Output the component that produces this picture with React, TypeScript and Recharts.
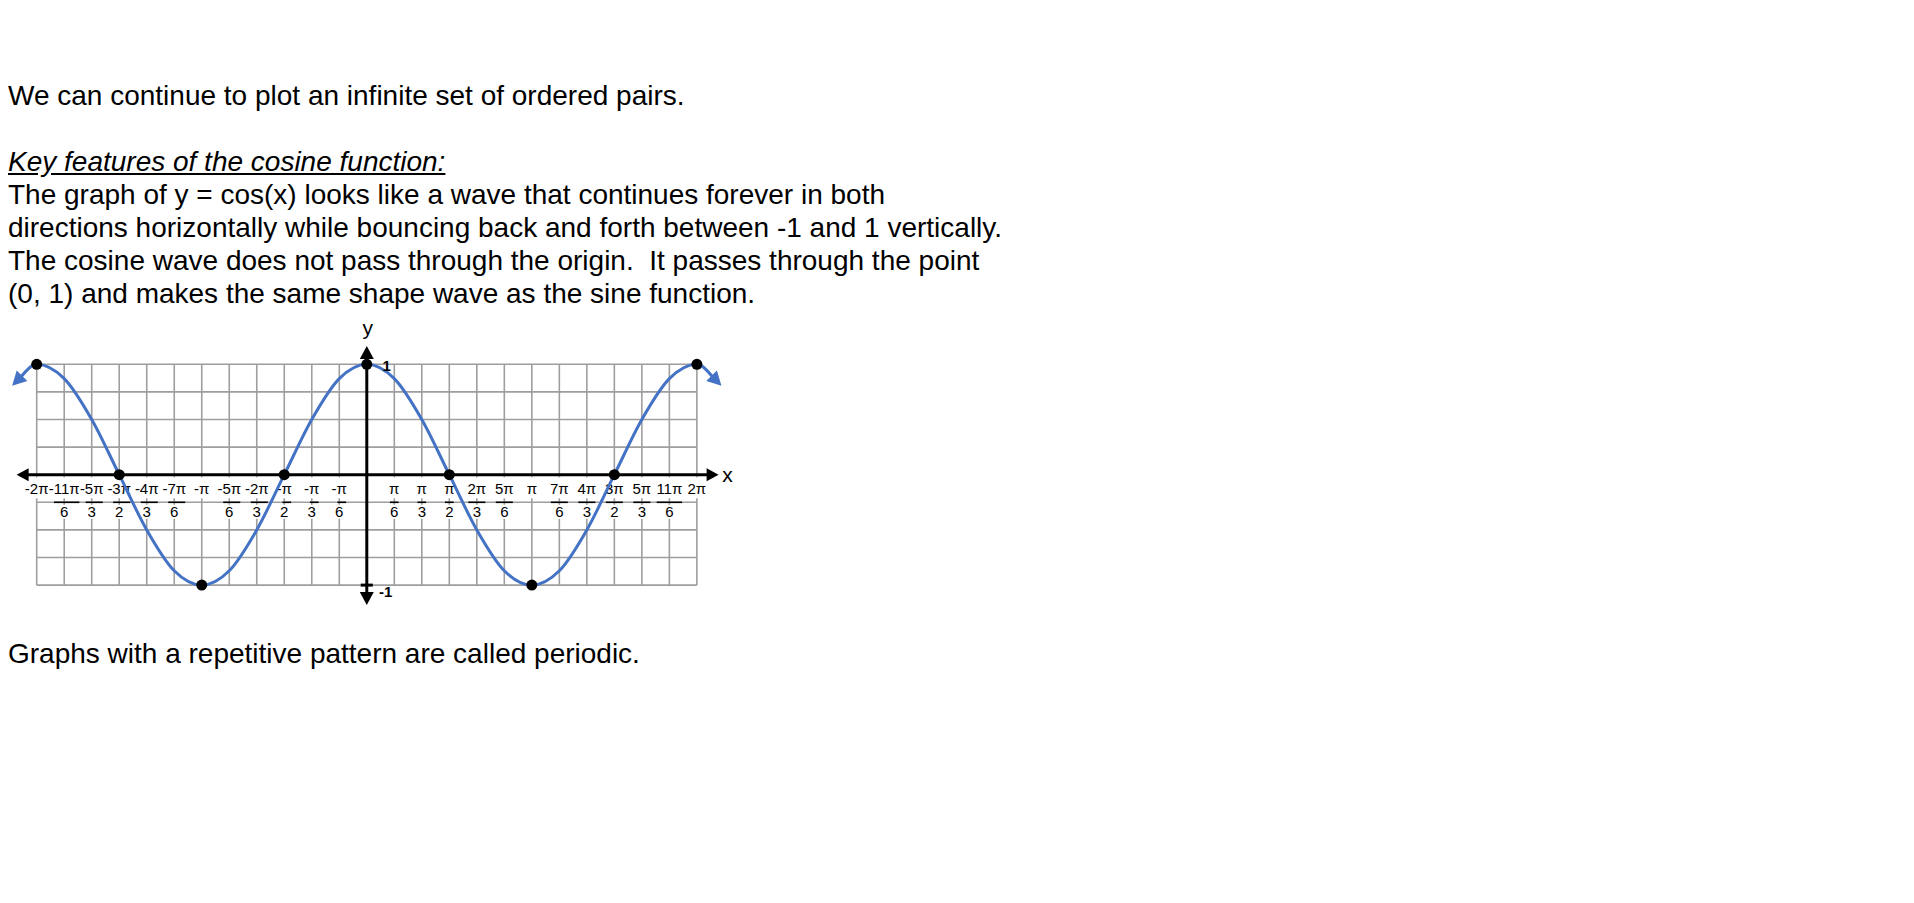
import React from 'react';
import { ComposedChart, Line, Scatter, XAxis, YAxis, ReferenceLine, ReferenceDot } from 'recharts';

// x values are counted in steps of π/6
const tickSteps = [-12, -11, -10, -9, -8, -7, -6, -5, -4, -3, -2, -1, 0, 1, 2, 3, 4, 5, 6, 7, 8, 9, 10, 11, 12];
const tickNums = ['-2π', '-11π', '-5π', '-3π', '-4π', '-7π', '-π', '-5π', '-2π', '-π', '-π', '-π', '', 'π', 'π', 'π', '2π', '5π', 'π', '7π', '4π', '3π', '5π', '11π', '2π'];
const tickDens = ['', '6', '3', '2', '3', '6', '', '6', '3', '2', '3', '6', '', '6', '3', '2', '3', '6', '', '6', '3', '2', '3', '6', ''];

const gridRows = [-1, -0.75, -0.5, -0.25, 0, 0.25, 0.5, 0.75, 1];

const curveX = [-12.56, -12, -11, -10, -9, -8, -7, -6, -5, -4, -3, -2, -1, 0, 1, 2, 3, 4, 5, 6, 7, 8, 9, 10, 11, 12, 12.56];
const curveY = [0.89, 1, 0.87, 0.5, 0, -0.5, -0.87, -1, -0.87, -0.5, 0, 0.5, 0.87, 1, 0.87, 0.5, 0, -0.5, -0.87, -1, -0.87, -0.5, 0, 0.5, 0.87, 1, 0.89];

const keyX = [-12, -9, -6, -3, 0, 3, 6, 9, 12];
const keyY = [1, 0, -1, 0, 1, 0, -1, 0, 1];

const curveData = curveX.map((x, i) => ({ x, y: curveY[i] }));
const keyData = keyX.map((x, i) => ({ x, y: keyY[i] }));

const BLUE = '#4472C4';
const GRID = '#9e9e9e';
const FONT = '"Liberation Sans", Arial, sans-serif';

const charW = (c: string) => (c === '-' ? 0.333 : c === 'π' ? 0.58 : 0.556);
const textW = (s: string, fs: number) => s.split('').reduce((a, c) => a + charW(c) * fs, 0);

const arrow = (tx: number, ty: number, dx: number, dy: number, len: number, hw: number, fill: string) => {
  const bx = tx - dx * len;
  const by = ty - dy * len;
  const nx = -dy;
  const ny = dx;
  return (
    <polygon
      points={`${tx},${ty} ${bx + nx * hw},${by + ny * hw} ${bx - nx * hw},${by - ny * hw}`}
      fill={fill}
    />
  );
};

const XAxisLine = (p: any) => {
  const l = Math.min(p.x1, p.x2);
  const r = Math.max(p.x1, p.x2);
  return (
    <g>
      <line x1={l + 8} y1={p.y1} x2={r - 8} y2={p.y1} stroke="#000" strokeWidth={3} />
      {arrow(l, p.y1, -1, 0, 12, 6.5, '#000')}
      {arrow(r, p.y1, 1, 0, 12, 6.5, '#000')}
      <text x={r + 9} y={p.y1 + 7} fontSize={21} fontFamily={FONT} textAnchor="middle">x</text>
    </g>
  );
};

const YAxisLine = (p: any) => {
  const t = Math.min(p.y1, p.y2);
  const b = Math.max(p.y1, p.y2);
  return (
    <g>
      <line x1={p.x1} y1={t + 8} x2={p.x1} y2={b - 8} stroke="#000" strokeWidth={3} />
      {arrow(p.x1, t, 0, -1, 13, 7, '#000')}
      {arrow(p.x1, b, 0, 1, 13, 7, '#000')}
      <text x={p.x1 + 1} y={t - 11} fontSize={21} fontFamily={FONT} textAnchor="middle">y</text>
    </g>
  );
};

// tick label hung on the -0.25 grid row: the fraction bar sits on that row
const TickLabel = (p: any) => {
  const fs = 15;
  const num: string = p.num;
  const den: string = p.den;
  const cx = p.cx;
  const cy = p.cy;
  const w = textW(num, fs);
  const minusW = num.startsWith('-') ? textW('-', fs) : 0;
  return (
    <g fontFamily={FONT} fontSize={fs}>
      <rect x={cx - w / 2 - 1} y={cy - 25} width={w + 2} height={21} fill="#fff" />
      <text x={cx} y={cy - 8} textAnchor="middle">{num}</text>
      {den && (
        <>
          <rect x={cx - 6} y={cy + 2.5} width={12} height={14} fill="#fff" />
          <line x1={cx - w / 2 + minusW} y1={cy} x2={cx + w / 2} y2={cy} stroke="#000" strokeWidth={1.6} />
          <text x={cx} y={cy + 14.5} textAnchor="middle">{den}</text>
        </>
      )}
    </g>
  );
};

const CurveEnd = (p: any) => {
  const last = curveX.length - 1;
  if (p.index !== 0 && p.index !== last) return <g key={`e${p.index}`} />;
  const dx = p.index === 0 ? -0.707 : 0.707;
  const dy = 0.707;
  return (
    <g key={`e${p.index}`}>
      {arrow(p.cx + dx * 13, p.cy + dy * 13, dx, dy, 14, 7.5, BLUE)}
    </g>
  );
};

const CosineChart = () => (
  <ComposedChart
    width={745}
    height={330}
    margin={{ top: 31.18, right: 30, bottom: 11.78, left: 2.575 }}
  >
    <XAxis type="number" dataKey="x" domain={[-12.95, 12.95]} allowDataOverflow hide />
    <YAxis type="number" dataKey="y" domain={[-1.3, 1.3]} allowDataOverflow hide />

    {tickSteps.map((k) => (
      <ReferenceLine
        key={`c${k}`}
        segment={[{ x: k, y: -1 }, { x: k, y: 1 }]}
        stroke={GRID}
        strokeWidth={1.6}
        zIndex={10}
      />
    ))}
    {gridRows.map((v) => (
      <ReferenceLine
        key={`r${v}`}
        segment={[{ x: -12, y: v }, { x: 12, y: v }]}
        stroke={GRID}
        strokeWidth={1.6}
        zIndex={10}
      />
    ))}

    {tickSteps.map((k, i) =>
      tickNums[i] ? (
        <ReferenceDot
          key={`t${k}`}
          x={k}
          y={-0.25}
          r={0}
          zIndex={20}
          shape={(p: any) => <TickLabel {...p} num={tickNums[i]} den={tickDens[i]} />}
        />
      ) : null
    )}

    <ReferenceLine
      segment={[{ x: -12.73, y: 0 }, { x: 12.79, y: 0 }]}
      zIndex={30}
      shape={XAxisLine}
    />
    <ReferenceLine
      segment={[{ x: 0, y: 1.165 }, { x: 0, y: -1.18 }]}
      zIndex={30}
      shape={YAxisLine}
    />
    <ReferenceLine
      segment={[{ x: -0.22, y: -1 }, { x: 0.22, y: -1 }]}
      stroke="#000"
      strokeWidth={3}
      zIndex={30}
    />
    <ReferenceDot
      x={0}
      y={1}
      r={0}
      zIndex={60}
      shape={(p: any) => (
        <text x={p.cx + 20} y={p.cy + 7} fontSize={15} fontWeight={700} fontFamily={FONT} textAnchor="middle">1</text>
      )}
    />
    <ReferenceDot
      x={0}
      y={-1}
      r={0}
      zIndex={60}
      shape={(p: any) => (
        <text x={p.cx + 19} y={p.cy + 11.5} fontSize={15} fontWeight={700} fontFamily={FONT} textAnchor="middle">-1</text>
      )}
    />

    <Line
      data={curveData}
      dataKey="y"
      type="monotone"
      stroke={BLUE}
      strokeWidth={3}
      dot={CurveEnd}
      activeDot={false}
      isAnimationActive={false}
      zIndex={40}
    />
    <Scatter
      data={keyData}
      dataKey="y"
      fill="#000"
      isAnimationActive={false}
      zIndex={50}
      shape={(p: any) => <circle cx={p.cx} cy={p.cy} r={5.5} fill="#000" />}
    />
  </ComposedChart>
);

export default function App() {
  return (
    <div style={{ position: 'relative', width: 1898, height: 880, fontFamily: FONT, color: '#000' }}>
      <div style={{ position: 'absolute', left: 0, top: 70.7, fontSize: 28, lineHeight: '33px', whiteSpace: 'pre' }}>
        <div>We can continue to plot an infinite set of ordered pairs.</div>
        <div style={{ height: 33 }} />
        <div style={{ fontStyle: 'italic', textDecoration: 'underline' }}>Key features of the cosine function:</div>
        <div>The graph of y = cos(x) looks like a wave that continues forever in both</div>
        <div>directions horizontally while bouncing back and forth between -1 and 1 vertically.</div>
        <div>The cosine wave does not pass through the origin.  It passes through the point</div>
        <div>(0, 1) and makes the same shape wave as the sine function.</div>
      </div>
      <div style={{ position: 'absolute', left: 0, top: 292 }}>
        <CosineChart />
      </div>
      <div style={{ position: 'absolute', left: 0, top: 628.7, fontSize: 28, lineHeight: '33px', whiteSpace: 'pre' }}>
        Graphs with a repetitive pattern are called periodic.
      </div>
    </div>
  );
}
